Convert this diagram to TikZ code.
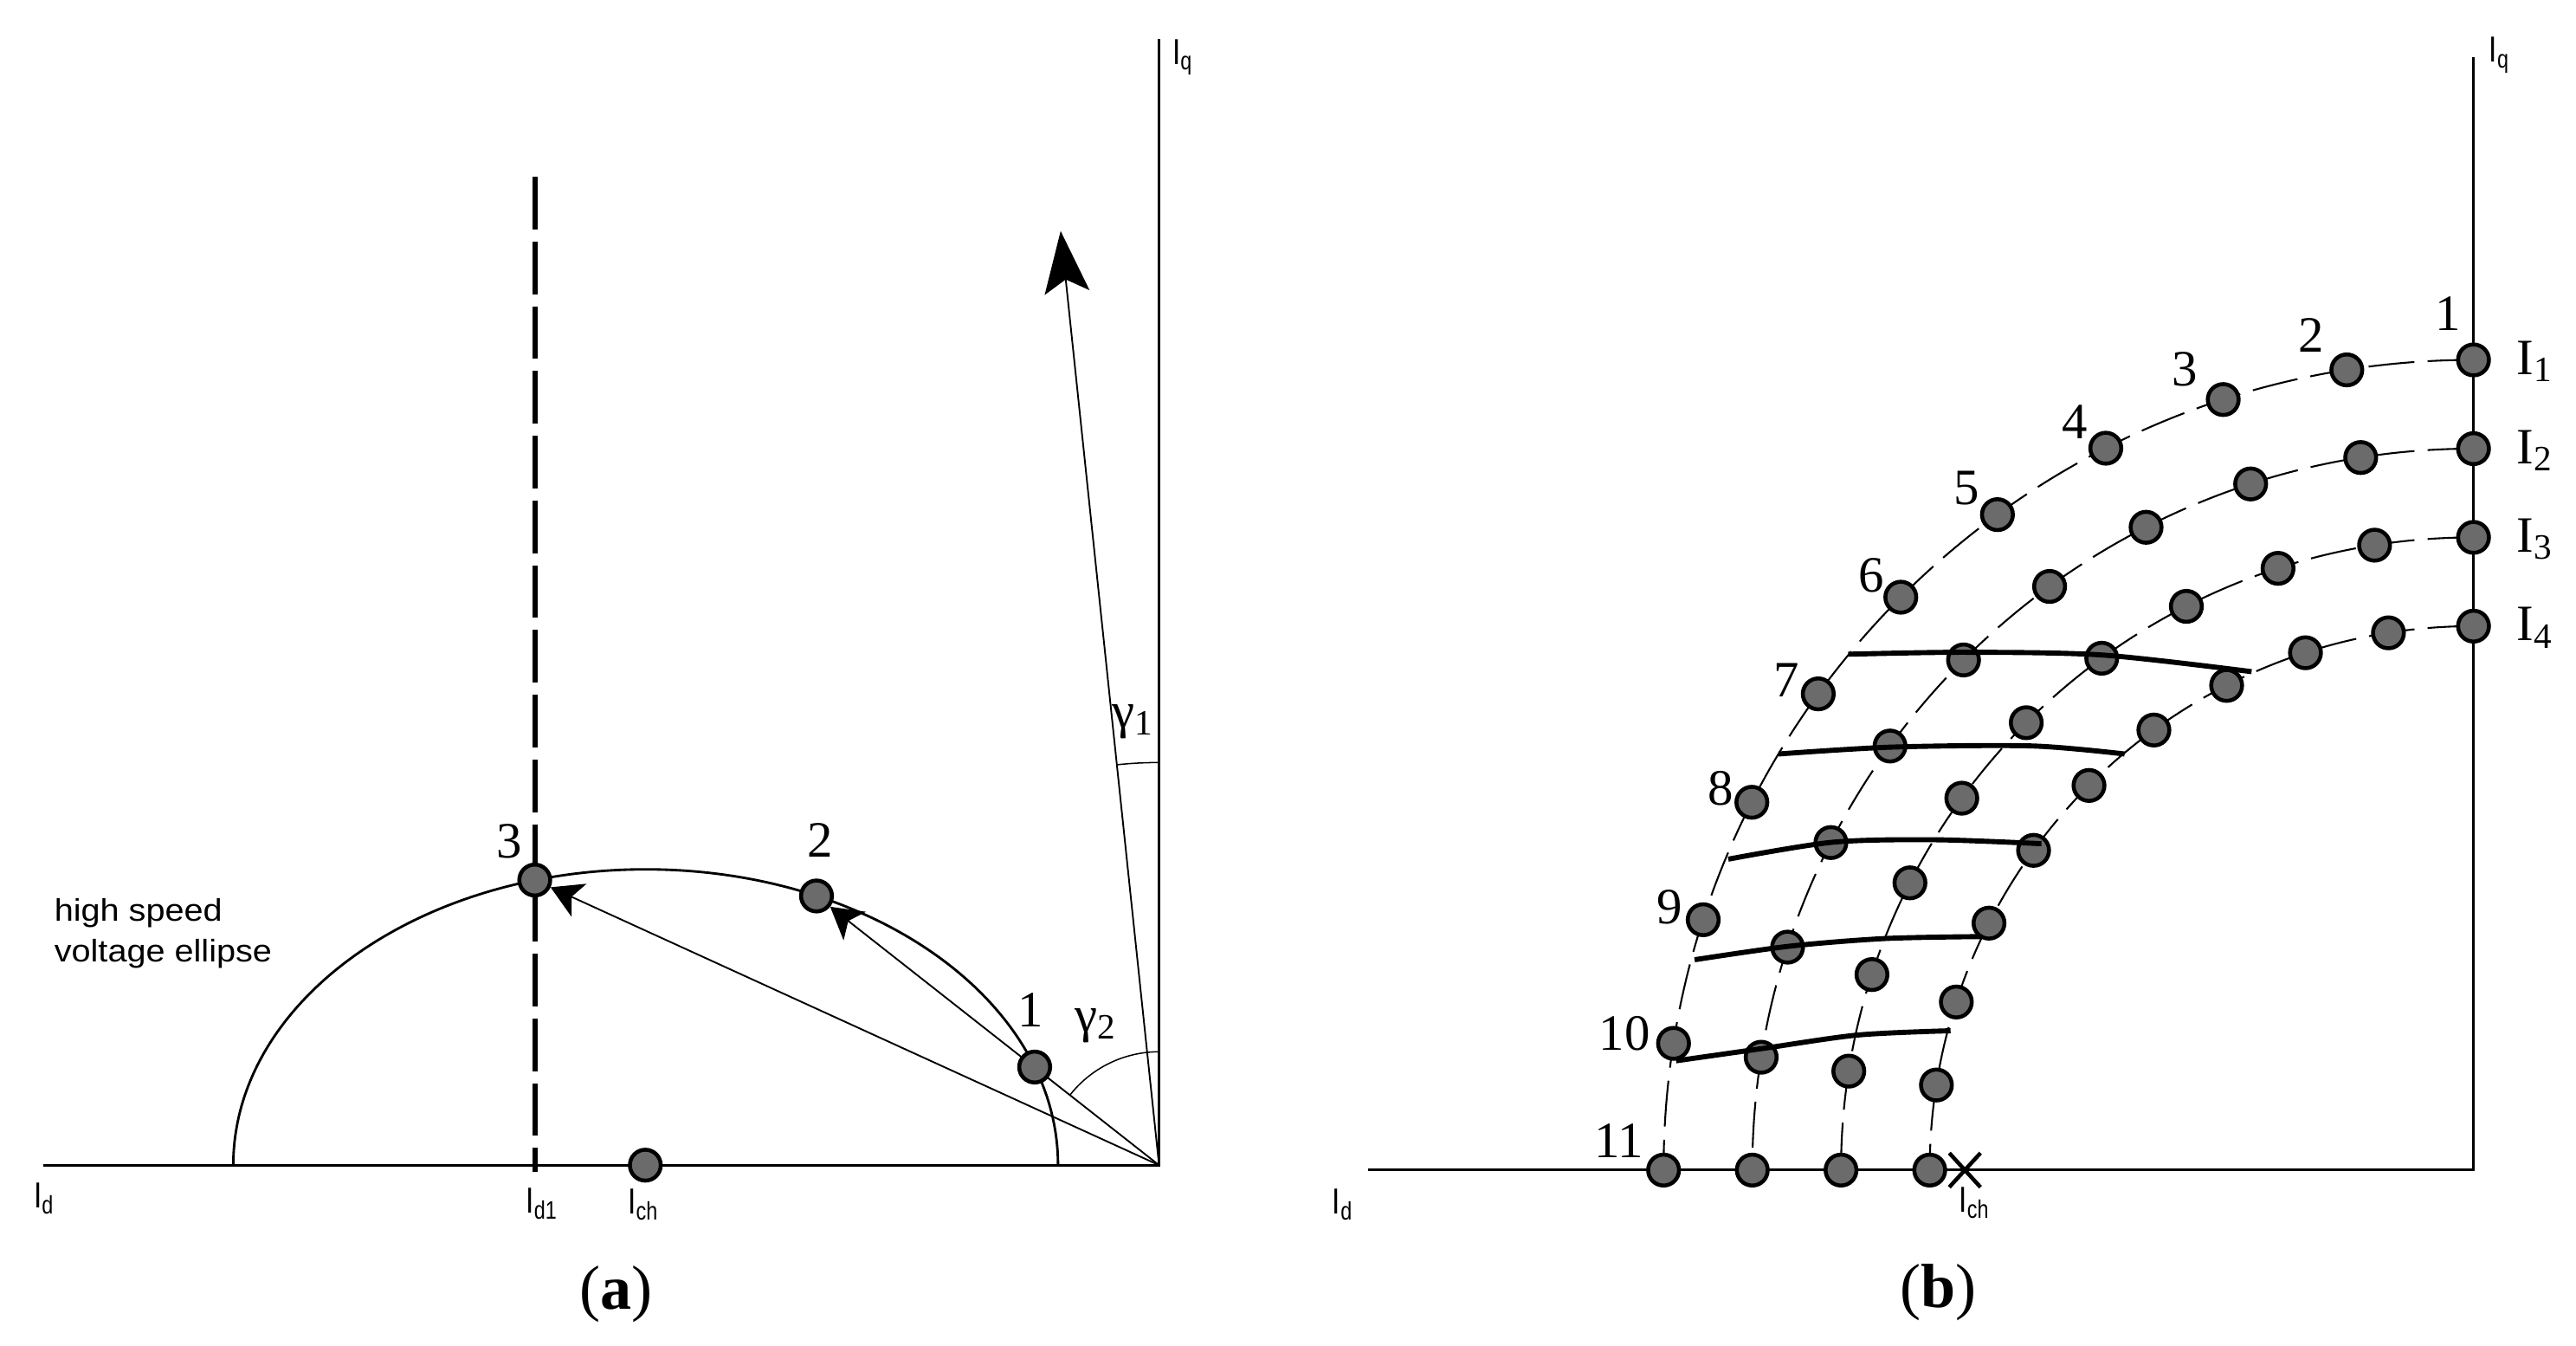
\documentclass[tikz,border=0pt]{standalone}
\usepackage{fontspec}
\setmainfont{Liberation Serif}
\newfontfamily\axfont{Liberation Sans}[FakeStretch=0.8]
\newfontfamily\txtfont{Liberation Sans}[FakeStretch=1.1]
\usetikzlibrary{arrows.meta,calc,shapes.misc}
\pgfdeclarelayer{bg}
\pgfsetlayers{bg,main}
\definecolor{ptgray}{HTML}{6B6B6B}
\tikzset{
  pt/.style={circle,draw=black,fill=ptgray,line width=1.2pt,minimum size=9.4pt,inner sep=0pt},
  axisline/.style={line width=0.75pt},
  ellline/.style={line width=0.75pt},
  thinline/.style={line width=0.5pt},
  arcline/.style={line width=0.4pt},
  d1line/.style={line width=1.7pt,dash pattern=on 16pt off 3.7pt},
  icurve/.style={line width=0.55pt,dash pattern=on 14pt off 4pt},
  thickline/.style={line width=1.55pt},
  numlab/.style={inner sep=0pt,font=\fontsize{15.5}{16}\selectfont},
  axlab/.style={inner sep=0pt,font=\axfont\fontsize{11}{12}\selectfont},
  txtlab/.style={inner sep=0pt,anchor=base west,font=\txtfont\fontsize{9.5}{12}\selectfont},
  caplab/.style={inner sep=0pt,font=\fontsize{19}{20}\selectfont},
  bigtip/.style={-{Stealth[length=18.8pt,width=13.7pt,inset=4pt]}},
  smalltip/.style={-{Stealth[length=9.5pt,width=11pt,inset=2.5pt]}},
}
\begin{document}
\begin{tikzpicture}[x=0.5pt,y=-0.5pt]
\useasboundingbox (0,0) rectangle (1568,819);

% ---------------- panel (a) ----------------
\coordinate (Oa) at (705.5,709);
\coordinate (aL) at (26.6,709);
\coordinate (aT) at (705.5,23.6);
\coordinate (dtop) at (325.8,107.6);
\coordinate (dbot) at (325.8,713);
\coordinate (g1tip) at (645.6,140.6);

\node[pt] (p1) at (629.8,649.3) {};
\node[pt] (p2) at (497,545.2) {};
\node[pt] (p3) at (325.5,535.5) {};
\node[pt] (pch) at (392.8,709) {};

\begin{pgfonlayer}{bg}
  \draw[axisline] (aL) -- (Oa) -- (aT);
  \draw[ellline] (142,709) arc[start angle=180,end angle=360,x radius=251,y radius=180];
  \draw[d1line] (dtop) -- (dbot);
  \draw[thinline,smalltip] (Oa) -- (p3);
  \draw[thinline,smalltip] (Oa) -- (p2);
  \draw[thinline,bigtip] (Oa) -- (g1tip);
  \draw[arcline] (705.5,640) arc[start angle=270,end angle=218,radius=69];
  \draw[arcline] (705.5,464) arc[start angle=270,end angle=264,radius=245];
\end{pgfonlayer}

\node[numlab] (l3) at (310,512) {3};
\node[numlab] (l2) at (499,511) {2};
\node[numlab] (l1) at (627.5,614.4) {1};
\node[numlab] (lg2) at (667,624) {γ\textsubscript{2}};
\node[numlab] (lg1) at (690,439) {γ\textsubscript{1}};

\node[axlab] (aIq) at (720,35) {I\textsubscript{q}};
\node[axlab] (aId) at (27,729.5) {I\textsubscript{d}};
\node[axlab] (aId1) at (330,732.5) {I\textsubscript{d1}};
\node[axlab] (aIch) at (391.8,733) {I\textsubscript{ch}};
\node[txtlab] (hs1) at (32.7,560.3) {high speed};
\node[txtlab] (hs2) at (32.7,585.4) {voltage ellipse};

\node[caplab] (capa) at (375,787.5) {(\textbf{a})};

% ---------------- panel (b) ----------------
\coordinate (Ob) at (1505.6,712);
\coordinate (bL) at (833,712);
\coordinate (bT) at (1505.6,35);

\foreach \i/\r in {1/493,2/439,3/385,4/331} {
  \foreach \k in {0,...,10} {
    \pgfmathtruncatemacro\kk{\k+1}
    \path (Ob) ++({270-9*\k}:\r) node[pt] (b\i-\kk) {};
  }
}

\begin{pgfonlayer}{bg}
  \draw[axisline] (bL) -- (Ob) -- (bT);
  \foreach \i/\r in {1/493,2/439,3/385,4/331}
    \draw[icurve] (b\i-1.center) arc[start angle=270,end angle=180,radius=\r];
\end{pgfonlayer}

\draw[thickline] plot[smooth] coordinates {(1125,398.1) (1196,396.9) (1280,398.6) (1370.5,408.7)};
\draw[thickline] plot[smooth] coordinates {(1082.6,458.8) (1152,454.6) (1236.7,453.9) (1293.2,458.8)};
\draw[thickline] plot[smooth] coordinates {(1052,522.8) (1115.5,512.5) (1178,511) (1242.6,513.4)};
\draw[thickline] plot[smooth] coordinates {(1031.5,584) (1088.9,575.8) (1147.3,571.1) (1206.1,569.9)};
\draw[thickline] plot[smooth] coordinates {(1020.2,645.5) (1073,638) (1131,629.8) (1187.3,627.2)};

\node[draw,cross out,line width=1.2pt,minimum width=8.3pt,minimum height=9.2pt,inner sep=0pt] (xch) at (1196,712) {};

\foreach \n/\x/\y in {1/1490/191,2/1407/204,3/1330/224.5,4/1263/257,5/1197/297,6/1139/350,7/1087.5/414,8/1047.5/479.5,9/1016.5/552,10/988.8/629,11/985.6/694}
  \node[numlab] (n\n) at (\x,\y) {\n};

\foreach \i in {1,...,4}
  \node[numlab,anchor=base west] (I\i) at ($(b\i-1)+(26,9)$) {I\textsubscript{\i}};

\node[axlab] (bIq) at (1521.5,33.5) {I\textsubscript{q}};
\node[axlab] (bId) at (817.5,733) {I\textsubscript{d}};
\node[axlab] (bIch) at (1202,732) {I\textsubscript{ch}};

\node[caplab] (capb) at (1180,786.7) {(\textbf{b})};
\end{tikzpicture}
\end{document}
